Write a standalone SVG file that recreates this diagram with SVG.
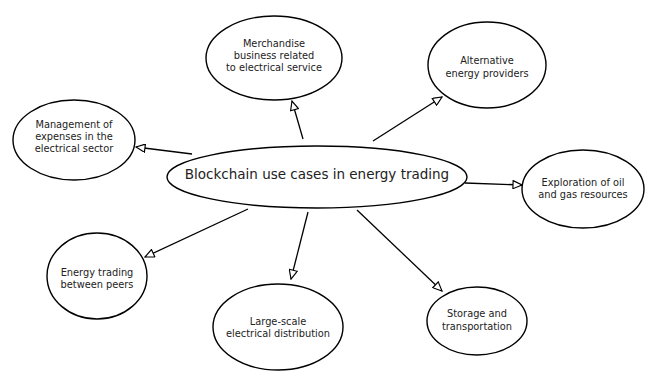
<svg xmlns="http://www.w3.org/2000/svg" width="647" height="372" viewBox="0 0 647 372">
<style>
.n{fill:#fff;stroke:#000;stroke-width:1.4}
.t{font-family:"DejaVu Sans",sans-serif;font-size:9.8px;fill:#222;text-anchor:middle}
.big{font-size:13.5px}
.c{stroke:#000;stroke-width:1.3;fill:none;marker-end:url(#a)}
</style>
<defs>
<marker id="a" viewBox="0 0 10 10" refX="10" refY="5" markerWidth="11" markerHeight="9" markerUnits="userSpaceOnUse" orient="auto">
<path d="M0,0.5 L10,5 L0,9.5 Z" fill="#fff" stroke="#000" stroke-width="1.3"/>
</marker>
</defs>
<rect width="647" height="372" fill="#fff"/>
<g id="connectors">
<line class="c" x1="303" y1="139" x2="292" y2="101"/>
<line class="c" x1="373" y1="141" x2="442" y2="97"/>
<line class="c" x1="192" y1="154" x2="136" y2="147"/>
<line class="c" x1="465" y1="183" x2="522" y2="185"/>
<line class="c" x1="248" y1="209" x2="145" y2="257"/>
<line class="c" x1="308" y1="212" x2="291" y2="279"/>
<line class="c" x1="357" y1="210" x2="442" y2="291"/>
</g>
<g id="center">
<ellipse class="n" cx="317" cy="177" rx="150" ry="31"/>
<text class="t big" x="317" y="179">Blockchain use cases in energy trading</text>
</g>
<g id="merchandise">
<ellipse class="n" cx="274" cy="58" rx="68" ry="42"/>
<text class="t" x="274" y="47">Merchandise</text>
<text class="t" x="274" y="59">business related</text>
<text class="t" x="274" y="71">to electrical service</text>
</g>
<g id="alternative">
<ellipse class="n" cx="487" cy="65" rx="59" ry="43"/>
<text class="t" x="487" y="64">Alternative</text>
<text class="t" x="487" y="77">energy providers</text>
</g>
<g id="management">
<ellipse class="n" cx="74" cy="140" rx="61" ry="40"/>
<text class="t" x="74" y="128">Management of</text>
<text class="t" x="74" y="140">expenses in the</text>
<text class="t" x="74" y="152">electrical sector</text>
</g>
<g id="exploration">
<ellipse class="n" cx="583" cy="189" rx="61" ry="39"/>
<text class="t" x="583" y="186">Exploration of oil</text>
<text class="t" x="583" y="198">and gas resources</text>
</g>
<g id="peers">
<ellipse class="n" cx="97" cy="276" rx="50" ry="43"/>
<text class="t" x="97" y="276">Energy trading</text>
<text class="t" x="97" y="288">between peers</text>
</g>
<g id="largescale">
<ellipse class="n" cx="278" cy="327" rx="65" ry="43"/>
<text class="t" x="278" y="325">Large-scale</text>
<text class="t" x="278" y="337">electrical distribution</text>
</g>
<g id="storage">
<ellipse class="n" cx="477" cy="321" rx="50" ry="34"/>
<text class="t" x="477" y="317">Storage and</text>
<text class="t" x="477" y="330">transportation</text>
</g>
</svg>
